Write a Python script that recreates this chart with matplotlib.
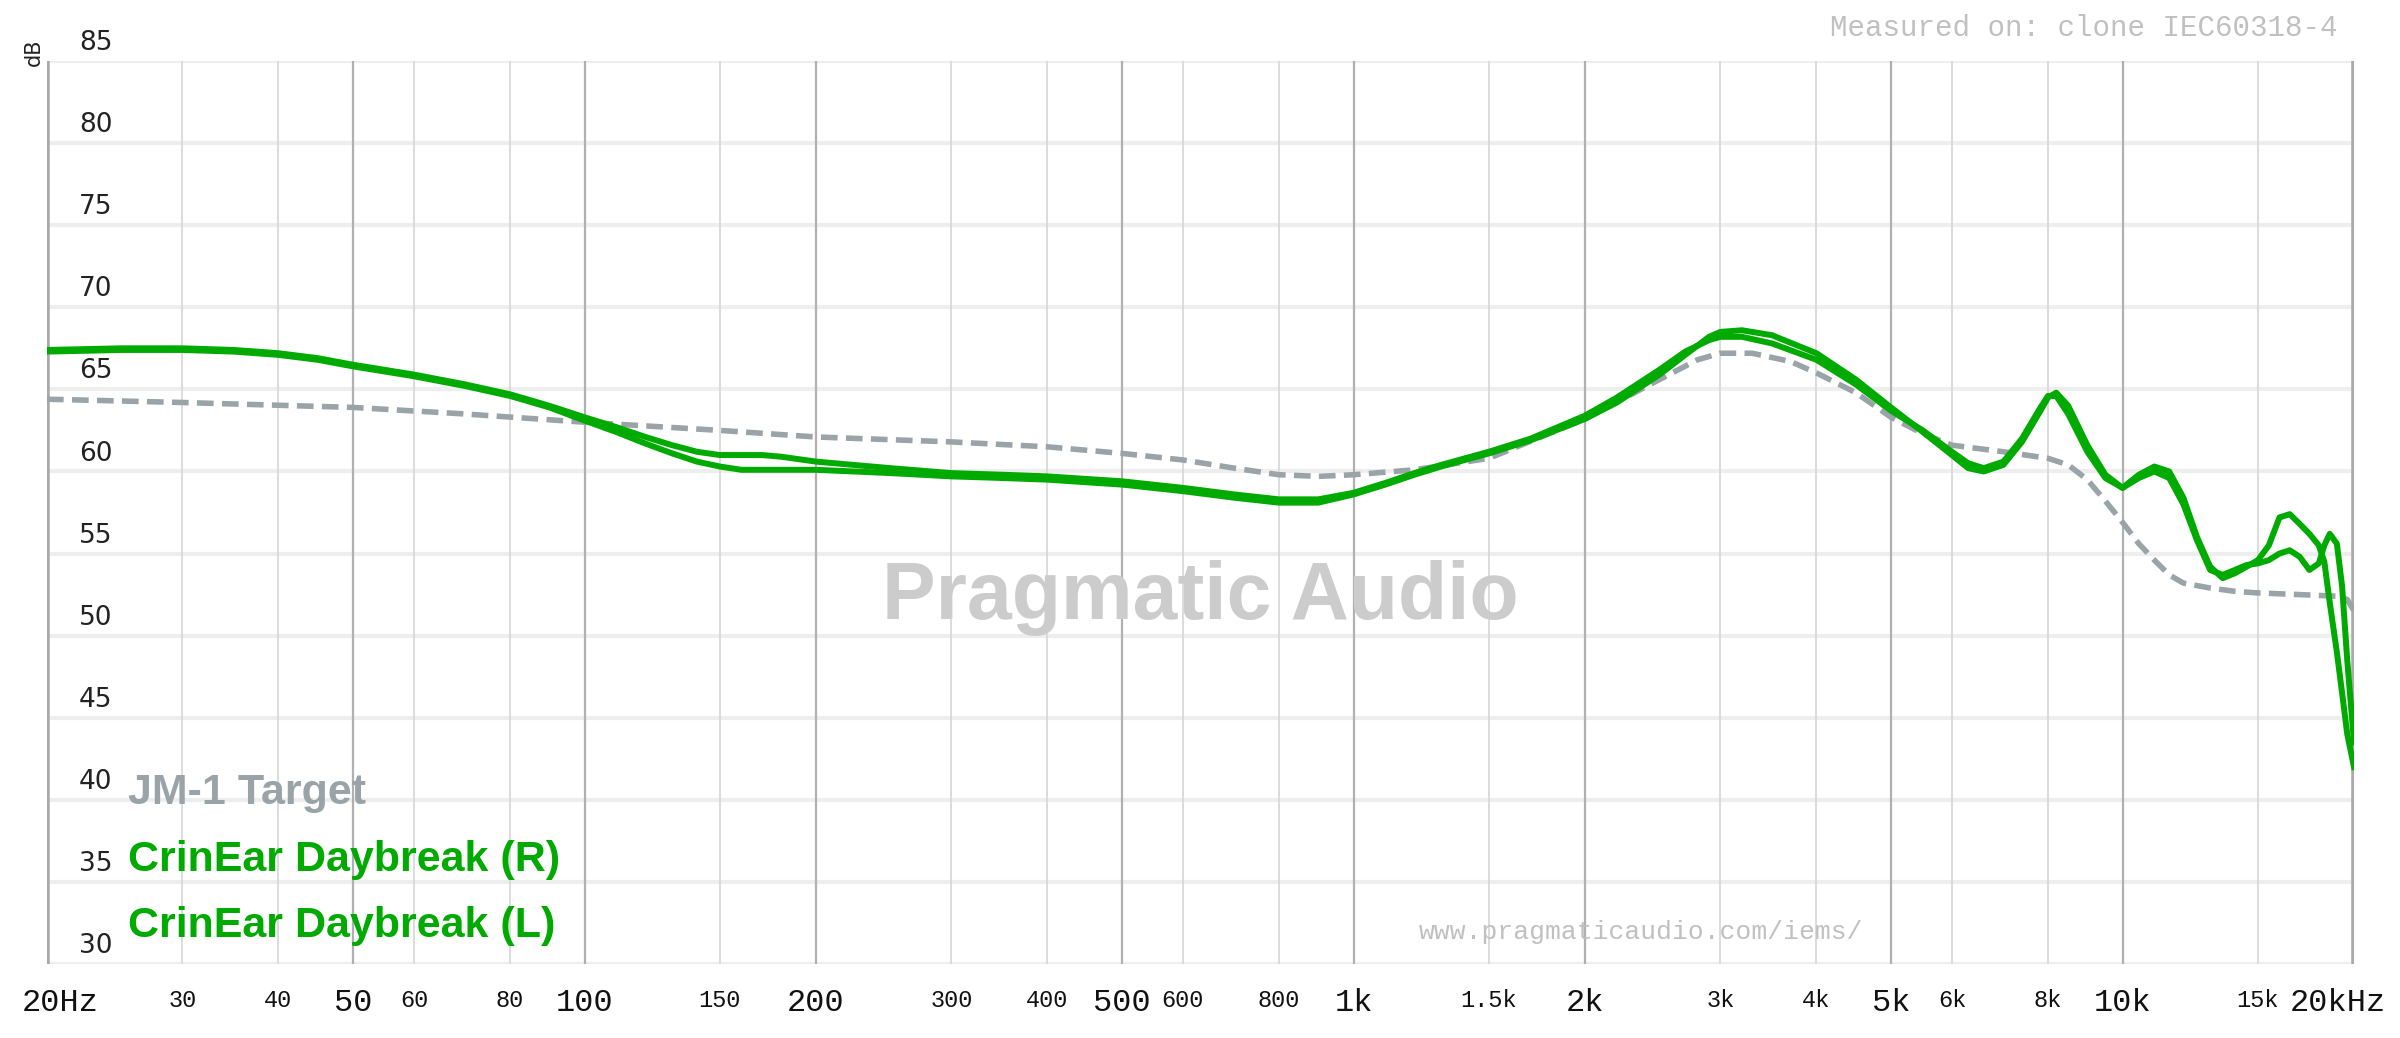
import numpy as np
import matplotlib
matplotlib.use("Agg")
import matplotlib.pyplot as plt

freq = [20, 25, 30, 35, 40, 45, 50, 60, 70, 80, 90, 100, 110, 120, 130, 140, 150, 160, 170, 180, 200,
        250, 300, 350, 400, 500, 600, 700, 800, 900, 1000, 1100, 1200, 1300, 1500, 1700, 2000, 2200,
        2500, 2700, 2900, 3000, 3200, 3500, 4000, 4500, 5000, 5500, 6000, 6300, 6600, 7000, 7400, 7800,
        8000, 8200, 8500, 9000, 9500, 10000, 10500, 11000, 11500, 12000, 12500, 13000, 13500, 14000,
        14500, 15000, 15500, 16000, 16500, 17000, 17500, 18000, 18300, 18600, 19000, 19300, 19600, 20000]
spl_r = [67.4, 67.5, 67.5, 67.4, 67.2, 66.9, 66.5, 65.9, 65.3, 64.7, 64.0, 63.3, 62.7, 62.1, 61.6, 61.2, 61.0, 61.0, 61.0, 60.9, 60.6,
         60.2, 59.9, 59.8, 59.7, 59.4, 59.0, 58.6, 58.3, 58.3, 58.7, 59.3, 59.9, 60.4, 61.2, 62.0, 63.4, 64.5,
         66.2, 67.3, 68.0, 68.2, 68.2, 67.8, 66.8, 65.3, 63.7, 62.5, 61.2, 60.5, 60.2, 60.6, 62.0, 63.8,
         64.6, 64.6, 63.5, 61.2, 59.6, 59.0, 59.6, 60.0, 59.6, 58.0, 55.8, 54.0, 53.7, 54.0,
         54.3, 54.4, 54.6, 55.0, 55.2, 54.8, 54.0, 54.4, 55.5, 56.2, 55.6, 53.0, 48.5, 43.5]
spl_l = [67.3, 67.4, 67.4, 67.3, 67.1, 66.8, 66.4, 65.8, 65.2, 64.6, 63.9, 63.1, 62.4, 61.7, 61.1, 60.6, 60.3, 60.1, 60.1, 60.1, 60.1,
         59.9, 59.7, 59.6, 59.5, 59.2, 58.8, 58.4, 58.1, 58.1, 58.6, 59.2, 59.8, 60.3, 61.1, 61.9, 63.2, 64.2,
         65.9, 67.1, 68.2, 68.5, 68.6, 68.3, 67.2, 65.6, 63.9, 62.4, 61.0, 60.2, 60.0, 60.4, 61.8, 63.6,
         64.5, 64.8, 64.0, 61.6, 59.8, 59.0, 59.8, 60.3, 60.0, 58.4, 56.0, 54.2, 53.5, 53.8,
         54.2, 54.6, 55.5, 57.2, 57.4, 56.8, 56.2, 55.5, 54.5, 52.0, 49.0, 46.5, 44.0, 42.0]
freq_t = [20, 30, 50, 70, 100, 150, 200, 300, 400, 500, 600, 700, 800, 900, 1000, 1200, 1500, 2000, 2500,
          2800, 3000, 3300, 3700, 4000, 4500, 5000, 5500, 6000, 7000, 8000, 8500, 9000, 9500, 10000, 10500,
          11000, 11500, 12000, 13000, 14000, 15000, 17000, 19000, 19600, 20000]
spl_t = [64.4, 64.2, 63.9, 63.5, 63.0, 62.5, 62.1, 61.8, 61.5, 61.1, 60.7, 60.2, 59.8, 59.7, 59.8, 60.1, 60.8, 63.2, 65.6,
         66.8, 67.2, 67.2, 66.7, 66.0, 64.8, 63.3, 62.3, 61.6, 61.2, 60.8, 60.4, 59.5, 58.2, 56.9, 55.6,
         54.6, 53.7, 53.2, 52.9, 52.7, 52.6, 52.5, 52.4, 52.2, 51.5]

major_ticks = [20, 50, 100, 200, 500, 1000, 2000, 5000, 10000, 20000]
minor_ticks = [30, 40, 60, 80, 150, 300, 400, 600, 800, 1500, 3000, 4000, 6000, 8000, 15000]
big_labels = {20: "20Hz", 50: "50", 100: "100", 200: "200", 500: "500", 1000: "1k", 2000: "2k", 5000: "5k", 10000: "10k", 20000: "20kHz"}
small_labels = {30: "30", 40: "40", 60: "60", 80: "80", 150: "150", 300: "300", 400: "400", 600: "600", 800: "800", 1500: "1.5k", 3000: "3k", 4000: "4k", 6000: "6k", 8000: "8k", 15000: "15k"}
y_ticks = [30, 35, 40, 45, 50, 55, 60, 65, 70, 75, 80, 85]

W, H = 2400, 1038
L, R, T, B = 47, 2354, 61, 964
fig = plt.figure(figsize=(24, 10.38), dpi=100)
ax = fig.add_axes([L/W, 1 - B/H, (R-L)/W, (B-T)/H])
ax.set_xscale("log")
ax.set_xlim(20, 20000)
ax.set_ylim(30, 85)
ax.set_facecolor("none")
for s in ax.spines.values():
    s.set_visible(False)
ax.set_xticks([]); ax.set_yticks([])
ax.minorticks_off()

for y in y_ticks:
    ax.axhline(y, color="#eeeeee", lw=3, zorder=0)
for f in minor_ticks:
    ax.axvline(f, color="#d6d6d6", lw=1.2, zorder=0)
for f in major_ticks[1:-1]:
    ax.axvline(f, color="#b0b0b0", lw=1.6, zorder=0)
ax.axvline(20, color="#aaaaaa", lw=4, zorder=1)
ax.axvline(20000, color="#aaaaaa", lw=4, zorder=1)

ax.text(0.5, 0.405, "Pragmatic Audio", transform=ax.transAxes, ha="center", va="center",
        fontsize=58, fontweight="bold", color="#cccccc", family="Liberation Sans", zorder=0)

ax.plot(freq_t, spl_t, color="#9aa3a8", lw=4, ls=(0, (3, 1.5)), zorder=2, solid_joinstyle="round")
ax.plot(freq, spl_r, color="#00aa00", lw=4.3, zorder=3, solid_joinstyle="round")
ax.plot(freq, spl_l, color="#00aa00", lw=4.3, zorder=3, solid_joinstyle="round")

for y in y_ticks:
    ax.text(22.0, y + 0.3, str(y), ha="left", va="bottom", fontsize=19, color="#222222",
            family="DejaVu Sans")
fig.text(24/W, 1 - 52/H, "dB", rotation=90, ha="left", va="center", fontsize=15, color="#222222")

ylab = 1 - 1003/H
for f, t in big_labels.items():
    x = ax.transData.transform((f, 50))[0] / W
    ha = "center"
    if f == 20:
        x = 22/W; ha = "left"
    if f == 20000:
        x = 2386/W; ha = "right"
    fig.text(x, ylab, t, ha=ha, va="center", fontsize=23, family="Liberation Mono", color="#111111")
for f, t in small_labels.items():
    x = ax.transData.transform((f, 50))[0] / W
    fig.text(x, ylab + 0.002, t, ha="center", va="center", fontsize=17, family="Liberation Mono", color="#111111")

fig.text(2337/W, 1 - 28/H, "Measured on: clone IEC60318-4", ha="right", va="center",
         fontsize=21, family="Liberation Mono", color="#c0c0c0")
fig.text(1419/W, 1 - 932/H, "www.pragmaticaudio.com/iems/", ha="left", va="center",
         fontsize=19, family="Liberation Mono", color="#c0c0c0")

for yy, txt, c in [(793, "JM-1 Target", "#9aa3a8"), (860, "CrinEar Daybreak (R)", "#00aa00"), (926, "CrinEar Daybreak (L)", "#00aa00")]:
    fig.text(128/W, 1 - yy/H, txt, ha="left", va="center", fontsize=31,
             fontweight="bold", family="Liberation Sans", color=c)

fig.savefig("out.png", dpi=100, facecolor="white")
